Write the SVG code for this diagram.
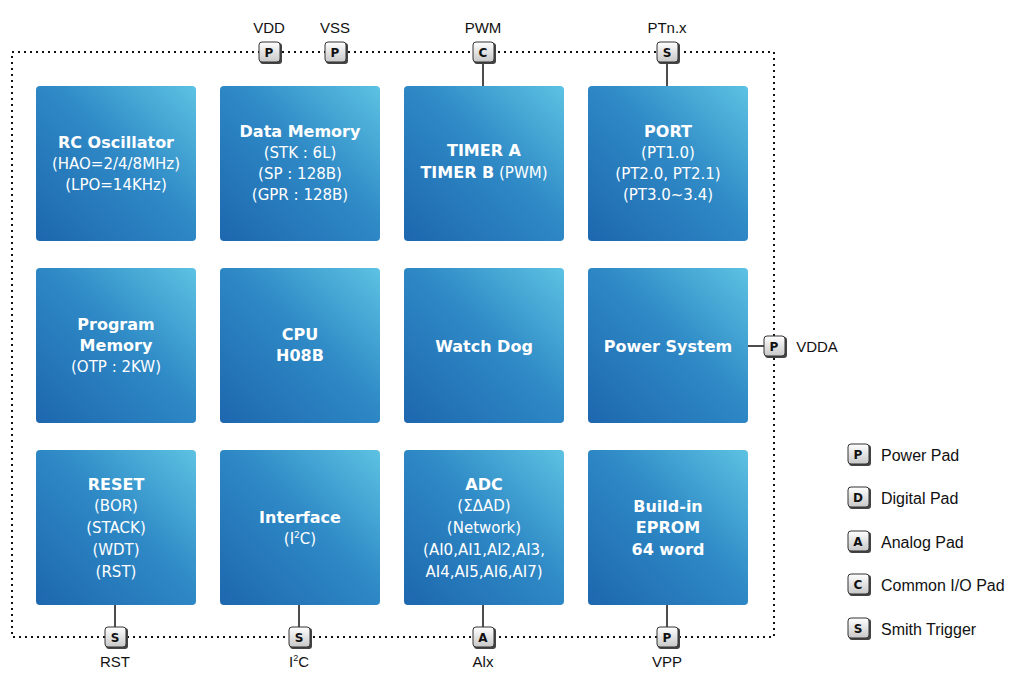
<svg xmlns="http://www.w3.org/2000/svg" width="1024" height="692" viewBox="0 0 1024 692">
<defs>
<linearGradient id="bg" x1="0" y1="1" x2="1" y2="0">
<stop offset="0" stop-color="#1d67ae"/><stop offset="0.55" stop-color="#2f8ac6"/><stop offset="1" stop-color="#5cc2e2"/>
</linearGradient>
<linearGradient id="pg" x1="0" y1="0" x2="0" y2="1">
<stop offset="0" stop-color="#ffffff"/><stop offset="1" stop-color="#c8c8c8"/>
</linearGradient>
<g id="pad"><rect x="-10" y="-9" width="22" height="21" rx="3" fill="#444"/><rect x="-11" y="-10" width="21" height="20" rx="3" fill="url(#pg)" stroke="#333" stroke-width="1"/></g>
</defs>
<style>
.blk{fill:url(#bg)}
.t{font-family:"DejaVu Sans",sans-serif;fill:#fff;text-anchor:middle;font-size:15px}
.b{font-weight:bold;font-size:16px}
.pl{font-family:"DejaVu Sans",sans-serif;font-weight:bold;font-size:12px;text-anchor:middle;fill:#111}
.lb{font-family:"Liberation Sans",sans-serif;font-size:15px;fill:#111;text-anchor:middle}
.lg{font-family:"Liberation Sans",sans-serif;font-size:16px;fill:#111}
.ln{stroke:#111;stroke-width:1.5}
</style>
<rect x="12" y="52" width="762" height="585" fill="none" stroke="#111" stroke-width="2" stroke-dasharray="2,4"/>
<g id="connectors">
<line class="ln" x1="483" y1="52" x2="483" y2="86"/>
<line class="ln" x1="667" y1="52" x2="667" y2="86"/>
<line class="ln" x1="748" y1="346" x2="774" y2="346"/>
<line class="ln" x1="115" y1="605" x2="115" y2="637"/>
<line class="ln" x1="299" y1="605" x2="299" y2="637"/>
<line class="ln" x1="483" y1="605" x2="483" y2="637"/>
<line class="ln" x1="667" y1="605" x2="667" y2="637"/>
</g>
<g id="rc"><rect class="blk" x="36" y="86" width="160" height="155" rx="4"/><text class="t b" x="116" y="148">RC Oscillator</text><text class="t" x="116" y="169">(HAO=2/4/8MHz)</text><text class="t" x="116" y="190">(LPO=14KHz)</text></g>
<g id="dm"><rect class="blk" x="220" y="86" width="160" height="155" rx="4"/><text class="t b" x="300" y="137">Data Memory</text><text class="t" x="300" y="158">(STK : 6L)</text><text class="t" x="300" y="179">(SP : 128B)</text><text class="t" x="300" y="200">(GPR : 128B)</text></g>
<g id="tm"><rect class="blk" x="404" y="86" width="160" height="155" rx="4"/><text class="t b" x="484" y="156">TIMER A</text><text class="t" x="484" y="178"><tspan class="b" font-weight="bold">TIMER B</tspan> (PWM)</text></g>
<g id="port"><rect class="blk" x="588" y="86" width="160" height="155" rx="4"/><text class="t b" x="668" y="137">PORT</text><text class="t" x="668" y="158">(PT1.0)</text><text class="t" x="668" y="179">(PT2.0, PT2.1)</text><text class="t" x="668" y="200">(PT3.0~3.4)</text></g>
<g id="pm"><rect class="blk" x="36" y="268" width="160" height="155" rx="4"/><text class="t b" x="116" y="330">Program</text><text class="t b" x="116" y="351">Memory</text><text class="t" x="116" y="372">(OTP : 2KW)</text></g>
<g id="cpu"><rect class="blk" x="220" y="268" width="160" height="155" rx="4"/><text class="t b" x="300" y="340">CPU</text><text class="t b" x="300" y="361">H08B</text></g>
<g id="wd"><rect class="blk" x="404" y="268" width="160" height="155" rx="4"/><text class="t b" x="484" y="352">Watch Dog</text></g>
<g id="ps"><rect class="blk" x="588" y="268" width="160" height="155" rx="4"/><text class="t b" x="668" y="352">Power System</text></g>
<g id="rst"><rect class="blk" x="36" y="450" width="160" height="155" rx="4"/><text class="t b" x="116" y="490">RESET</text><text class="t" x="116" y="511">(BOR)</text><text class="t" x="116" y="533">(STACK)</text><text class="t" x="116" y="555">(WDT)</text><text class="t" x="116" y="577">(RST)</text></g>
<g id="if"><rect class="blk" x="220" y="450" width="160" height="155" rx="4"/><text class="t b" x="300" y="523">Interface</text><text class="t" x="300" y="544">(I<tspan font-size="9" dy="-6">2</tspan><tspan dy="6">C)</tspan></text></g>
<g id="adc"><rect class="blk" x="404" y="450" width="160" height="155" rx="4"/><text class="t b" x="484" y="490">ADC</text><text class="t" x="484" y="511">(ΣΔAD)</text><text class="t" x="484" y="533">(Network)</text><text class="t" x="484" y="555">(AI0,AI1,AI2,AI3,</text><text class="t" x="484" y="577">AI4,AI5,AI6,AI7)</text></g>
<g id="ep"><rect class="blk" x="588" y="450" width="160" height="155" rx="4"/><text class="t b" x="668" y="512">Build-in</text><text class="t b" x="668" y="533">EPROM</text><text class="t b" x="668" y="555">64 word</text></g>
<g id="pads">
<use href="#pad" x="270" y="52"/><text class="pl" x="269" y="57">P</text><text class="lb" x="269" y="33">VDD</text>
<use href="#pad" x="336" y="52"/><text class="pl" x="335" y="57">P</text><text class="lb" x="335" y="33">VSS</text>
<use href="#pad" x="484" y="52"/><text class="pl" x="483" y="57">C</text><text class="lb" x="483" y="33">PWM</text>
<use href="#pad" x="668" y="52"/><text class="pl" x="667" y="57">S</text><text class="lb" x="667" y="33">PTn.x</text>
<use href="#pad" x="775" y="346"/><text class="pl" x="774" y="351">P</text><text class="lb" x="817" y="352">VDDA</text>
<use href="#pad" x="116" y="637"/><text class="pl" x="115" y="642">S</text><text class="lb" x="115" y="667">RST</text>
<use href="#pad" x="300" y="637"/><text class="pl" x="299" y="642">S</text><text class="lb" x="299" y="667">I<tspan font-size="9" dy="-6">2</tspan><tspan dy="6">C</tspan></text>
<use href="#pad" x="484" y="637"/><text class="pl" x="483" y="642">A</text><text class="lb" x="483" y="667">Alx</text>
<use href="#pad" x="668" y="637"/><text class="pl" x="667" y="642">P</text><text class="lb" x="667" y="667">VPP</text>
</g>
<g id="legend">
<use href="#pad" x="859" y="454"/><text class="pl" x="858" y="459">P</text><text class="lg" x="881" y="461">Power Pad</text>
<use href="#pad" x="859" y="497"/><text class="pl" x="858" y="502">D</text><text class="lg" x="881" y="504">Digital Pad</text>
<use href="#pad" x="859" y="541"/><text class="pl" x="858" y="546">A</text><text class="lg" x="881" y="548">Analog Pad</text>
<use href="#pad" x="859" y="584"/><text class="pl" x="858" y="589">C</text><text class="lg" x="881" y="591">Common I/O Pad</text>
<use href="#pad" x="859" y="628"/><text class="pl" x="858" y="633">S</text><text class="lg" x="881" y="635">Smith Trigger</text>
</g>
</svg>
